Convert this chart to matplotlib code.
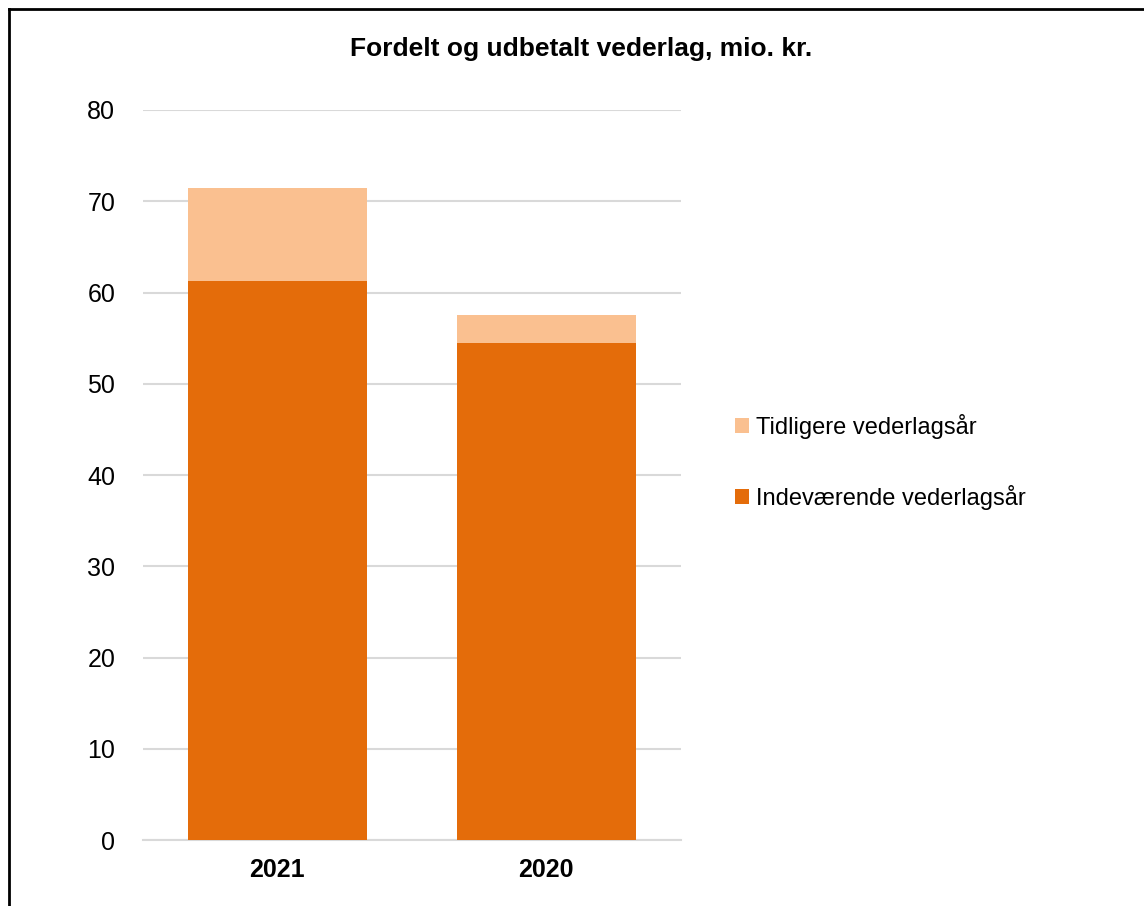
import matplotlib.pyplot as plt
from matplotlib.lines import Line2D

plt.rcParams['font.family'] = ['Liberation Sans', 'DejaVu Sans']

years = ['2021', '2020']
current_year = [61.3, 54.5]   # Indeværende vederlagsår
earlier_years = [10.1, 3.0]   # Tidligere vederlagsår
title = 'Fordelt og udbetalt vederlag, mio. kr.'

fig = plt.figure(figsize=(11.44, 9.06), dpi=100)
ax = fig.add_axes([0.125, 0.0728, 0.47, 0.8058])

x = range(len(years))
b1 = ax.bar(x, current_year, width=0.665, color='#E46C0A', zorder=3,
            label='Indeværende vederlagsår')
b2 = ax.bar(x, earlier_years, bottom=current_year, width=0.665, color='#FAC090',
            zorder=3, label='Tidligere vederlagsår')

ax.set_xlim(-0.5, 1.5)
ax.set_ylim(0, 80)
ax.set_yticks(range(0, 81, 10))
ax.set_xticks(list(x))
ax.set_xticklabels(years, fontweight='bold', fontsize=18)
ax.tick_params(axis='y', labelsize=18, length=0, pad=20)
ax.tick_params(axis='x', length=0, pad=13)
ax.grid(axis='y', color='#d9d9d9', linewidth=1.5, zorder=0)
for s in ['top', 'right', 'left']:
    ax.spines[s].set_visible(False)
ax.spines['bottom'].set_color('#d9d9d9')
ax.spines['bottom'].set_linewidth(1.5)

fig.text(0.508, 0.946, title, ha='center', va='center', fontsize=19, fontweight='bold')

fig.legend([b2, b1], ['Tidligere vederlagsår', 'Indeværende vederlagsår'],
           loc='center left', bbox_to_anchor=(0.6235, 0.49), frameon=False,
           fontsize=17, handlelength=0.6, handleheight=0.6, handletextpad=0.3,
           labelspacing=1.95)

# outer frame (top and left edges visible)
fig.add_artist(Line2D([0.0075, 1.0], [0.9905, 0.9905], transform=fig.transFigure,
                      color='black', linewidth=2))
fig.add_artist(Line2D([0.0075, 0.0075], [0.0, 0.9905], transform=fig.transFigure,
                      color='black', linewidth=2))

fig.savefig('out.png', dpi=100)
